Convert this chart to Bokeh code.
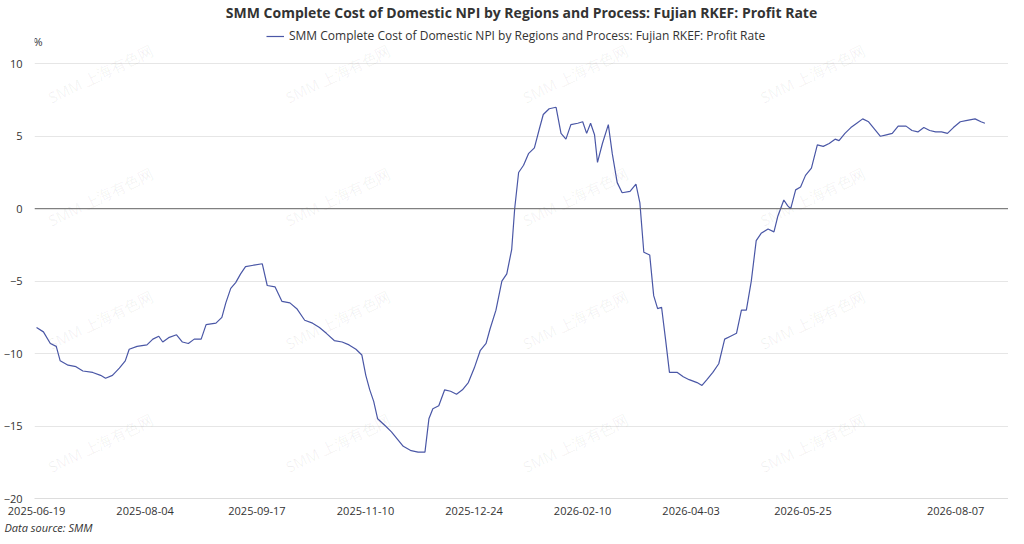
from bokeh.plotting import figure
from bokeh.models import Label, Legend, LegendItem, FixedTicker, Range1d, Span, Title
from bokeh.embed import file_html
from bokeh.resources import INLINE

# chart horizontal position (px of reference) for each sample -> converted to trading-day index
px = [38,45,52,58,62,70,78,85,95,103,108,115,122,128,132,140,150,156,162,166,172,180,186,192,198,205,210,220,226,230,235,240,245,250,258,267,272,280,287,295,302,310,318,325,332,340,348,355,362,368,372,376,380,384,392,398,404,410,418,425,432,436,440,446,452,458,464,470,476,482,488,494,498,504,510,515,520,523,527,532,537,543,548,552,558,565,570,575,580,587,592,596,600,604,607,612,618,622,627,632,640,646,650,654,660,664,668,672,676,680,688,694,700,708,713,718,724,730,736,742,748,753,758,763,768,773,780,786,790,796,800,803,808,813,818,824,830,836,842,848,852,858,864,870,876,882,888,894,900,906,912,920,926,932,938,944,950,956,962,968,975,982,990,996,1000]
profit = [-8.2,-8.5,-9.3,-9.5,-10.5,-10.8,-10.9,-11.2,-11.3,-11.5,-11.7,-11.5,-11.0,-10.5,-9.7,-9.5,-9.4,-9.0,-8.8,-9.2,-8.9,-8.7,-9.2,-9.3,-9.0,-9.0,-8.0,-7.9,-7.5,-6.5,-5.5,-5.1,-4.5,-4.0,-3.9,-3.8,-5.3,-5.4,-6.4,-6.5,-6.9,-7.7,-7.9,-8.2,-8.6,-9.1,-9.2,-9.4,-9.7,-10.1,-11.5,-12.5,-13.3,-14.5,-15.0,-15.4,-15.9,-16.4,-16.7,-16.8,-16.8,-14.5,-13.8,-13.6,-12.5,-12.6,-12.8,-12.5,-12.0,-11.0,-9.8,-9.3,-8.3,-7.0,-5.0,-4.5,-2.8,0.0,2.5,3.0,3.8,4.2,5.5,6.5,6.9,7.0,5.2,4.8,5.8,5.9,6.0,5.2,5.9,5.1,3.2,4.5,5.8,3.8,1.8,1.1,1.2,1.7,0.4,-3.0,-3.2,-6.0,-6.9,-6.8,-9.0,-11.3,-11.3,-11.6,-11.8,-12.0,-12.2,-11.8,-11.3,-10.7,-9.0,-8.8,-8.6,-7.0,-7.0,-5.0,-2.2,-1.7,-1.4,-1.6,-0.5,0.6,0.2,0.0,1.3,1.5,2.3,2.8,4.4,4.3,4.5,4.8,4.7,5.2,5.6,5.9,6.2,6.0,5.5,5.0,5.1,5.2,5.7,5.7,5.4,5.3,5.6,5.4,5.3,5.3,5.2,5.6,6.0,6.1,6.2,6.0,5.9]
day = [(p - 38) / 3.44 for p in px]

tick_pos = [0, 32, 65, 97, 129, 161, 193, 226, 271]
tick_labels = ["2025-06-19","2025-08-04","2025-09-17","2025-11-10","2025-12-24","2026-02-10","2026-04-03","2026-05-25","2026-08-07"]
y_ticks = [-20, -15, -10, -5, 0, 5, 10]
title_text = "SMM Complete Cost of Domestic NPI by Regions and Process: Fujian RKEF: Profit Rate"

FONT = "Open Sans"
p = figure(width=1008, height=534, output_backend="svg", toolbar_location=None,
           x_range=Range1d(-0.6, 286.6), y_range=Range1d(-20, 12.92),
           min_border_left=30, min_border_right=0, min_border_bottom=0, min_border_top=0)
p.outline_line_color = None
p.xgrid.grid_line_color = None
p.ygrid.grid_line_color = "#e6e6e6"
p.ygrid.ticker = FixedTicker(ticks=y_ticks)
p.yaxis.ticker = FixedTicker(ticks=y_ticks)
p.xaxis.ticker = FixedTicker(ticks=tick_pos)
p.xaxis.major_label_overrides = {t: l for t, l in zip(tick_pos, tick_labels)}
for ax in (p.xaxis, p.yaxis):
    ax.major_label_text_font = FONT
    ax.major_label_text_font_size = "11px"
    ax.major_label_text_color = "#333333"
    ax.major_tick_line_color = None
    ax.minor_tick_line_color = None
p.yaxis.axis_line_color = None
p.xaxis.axis_line_color = "#dddddd"
p.xaxis.major_label_standoff = 2
p.yaxis.major_label_standoff = 6

for wx, wy in [(5, 7), (75, 7), (145, 7), (215, 7), (5, -1.5), (75, -1.5), (145, -1.5), (215, -1.5),
               (5, -10), (75, -10), (145, -10), (215, -10), (5, -18.5), (75, -18.5), (145, -18.5), (215, -18.5)]:
    p.add_layout(Label(x=wx, y=wy, text="SMM 上海有色网", angle=0.45, text_color="#000000", text_alpha=0.06,
                       text_font=FONT, text_font_size="15px"))

p.add_layout(Span(location=0, dimension="width", line_color="#666666", line_width=1))
r = p.line(day, profit, line_color="#4a57a6", line_width=1.2)

legend = Legend(items=[LegendItem(label=title_text, renderers=[r])],
                location=(232, 454), border_line_color=None, background_fill_alpha=0,
                label_text_font=FONT, label_text_font_size="12px", label_text_color="#333333",
                glyph_width=18, padding=0, margin=0, label_height=14, glyph_height=14)
p.add_layout(legend)
p.add_layout(Label(x=-0.9, y=11.0, text="%", text_font=FONT,
                   text_font_size="11px", text_color="#333333"))

p.add_layout(Title(text=title_text, align="center", text_font=FONT, text_font_size="14px",
                   text_font_style="bold", text_color="#333333", standoff=0), "above")
p.add_layout(Title(text="Data source:  SMM", align="left", offset=-30, text_font=FONT, text_font_size="11px",
                   text_font_style="italic", text_color="#333333", standoff=0), "below")

open("out.html", "w").write(file_html(p, INLINE))
